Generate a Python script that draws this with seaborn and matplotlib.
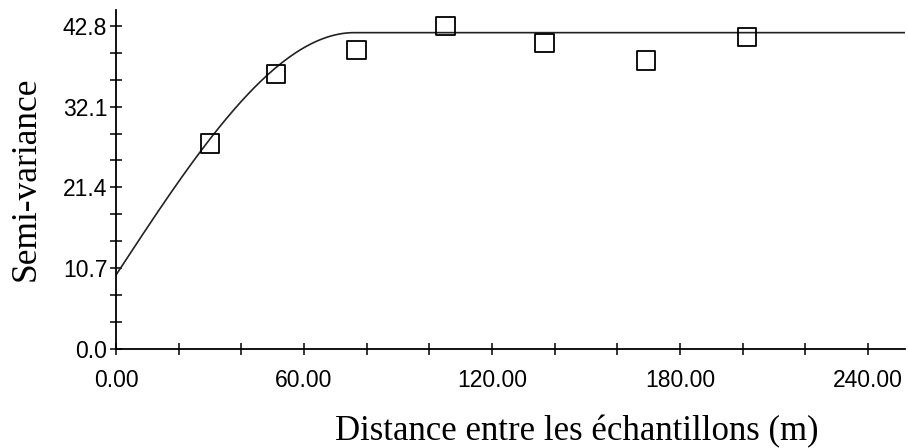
import numpy as np
import pandas as pd
import matplotlib
matplotlib.use("Agg")
import matplotlib.pyplot as plt
import seaborn as sns
from matplotlib.ticker import MultipleLocator, FixedLocator

lag_distance = [30.0, 51.1, 76.8, 105.1, 136.7, 169.2, 201.4]
semivariance = [27.2, 36.4, 39.6, 42.8, 40.5, 38.2, 41.3]

# Fitted spherical model parameters
nugget = 9.8
sill = 41.9
model_range = 76.0
x_max = 251.8
y_max = 44.9

y_major_ticks = [0.0, 10.7, 21.4, 32.1, 42.8]
y_tick_labels = ["0.0", "10.7", "21.4", "32.1", "42.8"]
x_major_ticks = [0, 60, 120, 180, 240]
x_tick_labels = ["0.00", "60.00", "120.00", "180.00", "240.00"]

xlabel = "Distance entre les échantillons (m)"
ylabel = "Semi-variance"

# spherical model curve
h = np.linspace(0, x_max, 600)
r = np.clip(h / model_range, 0, 1)
gamma = nugget + (sill - nugget) * (1.5 * r - 0.5 * r ** 3)
model_df = pd.DataFrame({"h": h, "gamma": gamma})
pts_df = pd.DataFrame({"h": lag_distance, "gamma": semivariance})

sns.set_theme(style="white")
plt.rcParams["font.family"] = ["Liberation Sans", "DejaVu Sans"]

fig = plt.figure(figsize=(9.08, 4.48), dpi=100)
ax = fig.add_axes([116 / 908, 1 - 349 / 448, (905 - 116) / 908, (349 - 10) / 448])

sns.lineplot(data=model_df, x="h", y="gamma", ax=ax, color="#222222", linewidth=1.2)
sns.scatterplot(data=pts_df, x="h", y="gamma", ax=ax, marker="s", s=175,
                facecolor="none", edgecolor="black", linewidth=1.3, zorder=3)

ax.set_xlim(0, x_max)
ax.set_ylim(0, y_max)

ax.xaxis.set_major_locator(FixedLocator(x_major_ticks))
ax.set_xticklabels(x_tick_labels)
ax.xaxis.set_minor_locator(MultipleLocator(20))
ax.yaxis.set_major_locator(FixedLocator(y_major_ticks))
ax.set_yticklabels(y_tick_labels)
ax.yaxis.set_minor_locator(FixedLocator(list(np.arange(0, 44.9, 10.7 / 3))))

for s in ["top", "right"]:
    ax.spines[s].set_visible(False)
for s in ["left", "bottom"]:
    ax.spines[s].set_color("black")
    ax.spines[s].set_linewidth(1.3)

ax.tick_params(which="both", bottom=True, left=True, top=False, right=False,
               direction="inout", length=8.5, width=1.1, color="black")
ax.tick_params(axis="x", which="major", pad=10, labelsize=16.5, labelcolor="black")
ax.tick_params(axis="y", which="major", pad=2, labelsize=16.5, labelcolor="black")

ax.set_xlabel(xlabel, family=["Liberation Serif", "DejaVu Serif"], fontsize=25, color="black")
ax.set_ylabel(ylabel, family=["Liberation Serif", "DejaVu Serif"], fontsize=25.5, color="black")
ax.xaxis.label.set_va("baseline")
ax.xaxis.set_label_coords(0.584, -0.268)
ax.yaxis.label.set_va("baseline")
ax.yaxis.set_label_coords(-0.1027, 0.501)
ax.grid(False)

fig.savefig("out.png", dpi=100)
